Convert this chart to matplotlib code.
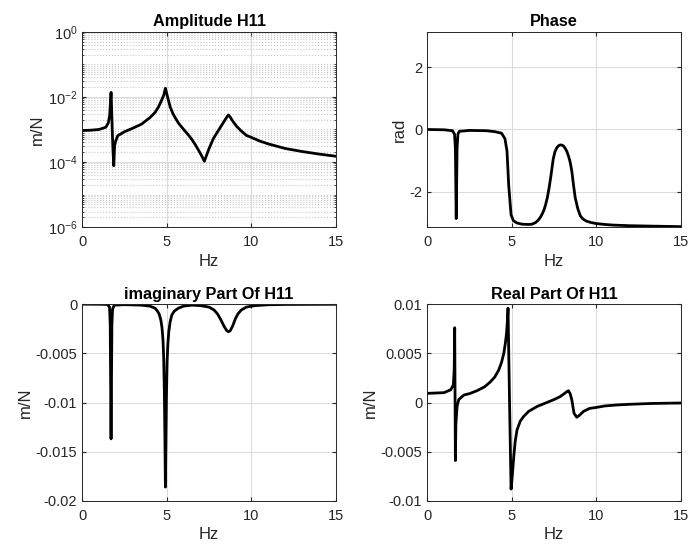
import matplotlib
matplotlib.use('Agg')
import matplotlib.pyplot as plt
from matplotlib.ticker import LogLocator, NullFormatter

plt.rcParams['font.family'] = ['Liberation Sans', 'DejaVu Sans']
plt.rcParams['axes.unicode_minus'] = False
plt.rcParams['mathtext.fontset'] = 'custom'
plt.rcParams['mathtext.rm'] = 'Liberation Sans'
plt.rcParams['mathtext.it'] = 'Liberation Sans:italic'
plt.rcParams['mathtext.bf'] = 'Liberation Sans:bold'

# amplitude |H11| (m/N)
amp_f = [0, 0.5, 1.0, 1.4, 1.55, 1.63, 1.68, 1.71, 1.74, 1.78, 1.82, 1.87, 1.92, 1.97,
         2.1, 2.5, 3.0, 3.5, 4.0, 4.3, 4.5, 4.7, 4.82, 4.92, 5.0, 5.1, 5.2, 5.35, 5.5,
         5.7, 6.0, 6.3, 6.5, 6.7, 6.9, 7.05, 7.22, 7.35, 7.5, 7.75, 8.0, 8.3, 8.5, 8.64,
         8.75, 8.9, 9.13, 9.4, 9.7, 10.0, 10.5, 11, 12, 13, 14, 15]
amp = [9.3e-4, 9.5e-4, 1.0e-3, 1.17e-3, 1.6e-3, 2.8e-3, 7.9e-3, 1.38e-2, 5.0e-3, 1.0e-3,
       2.5e-4, 7.7e-5, 3.2e-4, 4.2e-4, 6.4e-4, 8.5e-4, 1.1e-3, 1.45e-3, 2.3e-3, 3.3e-3,
       4.8e-3, 8.0e-3, 1.12e-2, 1.86e-2, 1.26e-2, 7.9e-3, 5.0e-3, 3.2e-3, 2.3e-3, 1.55e-3,
       1.0e-3, 6.6e-4, 4.8e-4, 3.3e-4, 2.2e-4, 1.6e-4, 1.05e-4, 1.6e-4, 2.6e-4, 5.2e-4,
       8.5e-4, 1.5e-3, 2.2e-3, 2.8e-3, 2.4e-3, 1.8e-3, 1.25e-3, 9.0e-4, 6.6e-4, 5.7e-4,
       4.4e-4, 3.6e-4, 2.6e-4, 2.1e-4, 1.75e-4, 1.5e-4]

# phase (rad)
ph_f = [0, 1.0, 1.5, 1.62, 1.67, 1.70, 1.72, 1.74, 1.77, 1.82, 1.9, 2.5, 3.5, 4.0, 4.4,
        4.6, 4.72, 4.82, 4.96, 5.1, 5.3, 5.6, 6.0, 6.2, 6.4, 6.55, 6.7, 6.8, 6.9, 7.0,
        7.1, 7.2, 7.3, 7.45, 7.55, 7.65, 7.75, 7.85, 7.95, 8.05, 8.15, 8.25, 8.35, 8.45,
        8.55, 8.65, 8.75, 8.9, 9.05, 9.2, 9.4, 9.7, 10, 10.5, 11, 12, 13, 15]
ph = [0.0, -0.01, -0.04, -0.15, -0.6, -2.0, -2.87, -2.0, -0.6, -0.15, -0.06, -0.03,
      -0.04, -0.07, -0.12, -0.3, -0.7, -1.8, -2.75, -2.94, -3.01, -3.05, -3.06, -3.05,
      -3.0, -2.93, -2.82, -2.72, -2.6, -2.42, -2.2, -1.9, -1.55, -0.95, -0.72, -0.6,
      -0.53, -0.5, -0.5, -0.53, -0.6, -0.7, -0.85, -1.05, -1.35, -1.8, -2.2, -2.55,
      -2.78, -2.88, -2.95, -3.0, -3.03, -3.06, -3.08, -3.1, -3.11, -3.13]

# imaginary part (m/N)
im_f = [0, 1.0, 1.5, 1.62, 1.66, 1.69, 1.71, 1.73, 1.76, 1.80, 1.9, 2.5, 3.5, 4.0, 4.3,
        4.45, 4.55, 4.65, 4.72, 4.78, 4.82, 4.86, 4.89, 4.92, 4.95, 4.98, 5.02, 5.06,
        5.12, 5.2, 5.3, 5.45, 5.7, 6.0, 6.5, 7.0, 7.5, 7.8, 8.0, 8.2, 8.4, 8.55, 8.65,
        8.75, 8.9, 9.05, 9.2, 9.4, 9.7, 10.2, 11, 12, 15]
im = [0, -0.00001, -0.00003, -0.0003, -0.002, -0.009, -0.0137, -0.009, -0.002, -0.0005,
      -0.0001, -0.00005, -0.0001, -0.0002, -0.0004, -0.0007, -0.001, -0.0016, -0.0024,
      -0.0037, -0.0055, -0.009, -0.0135, -0.0186, -0.014, -0.0095, -0.006, -0.0042,
      -0.0028, -0.0018, -0.0011, -0.0007, -0.0004, -0.0002, -0.0001, -0.00015, -0.0003,
      -0.0006, -0.001, -0.0016, -0.0023, -0.0027, -0.0028, -0.0027, -0.0022, -0.0015,
      -0.001, -0.0006, -0.0003, -0.00015, -0.00006, -0.00003, -0.00001]

# real part (m/N)
re_f = [0, 1.0, 1.4, 1.55, 1.6, 1.63, 1.65, 1.67, 1.70, 1.77, 1.87, 2.17, 2.5, 2.95,
        3.4, 3.74, 4.0, 4.23, 4.4, 4.53, 4.62, 4.69, 4.75, 4.78, 4.87, 4.96, 5.03, 5.12,
        5.2, 5.31, 5.5, 5.71, 6.0, 6.5, 7.0, 7.5, 7.86, 8.1, 8.25, 8.35, 8.45, 8.55,
        8.68, 8.84, 9.0, 9.24, 9.6, 10.0, 10.5, 11.2, 12, 13.2, 15]
re = [0.00093, 0.001, 0.0013, 0.0018, 0.0033, 0.0076, 0.001, -0.0059, -0.0022, -0.0004,
      0.0003, 0.00076, 0.0009, 0.0012, 0.0016, 0.0021, 0.0026, 0.0033, 0.0041, 0.005,
      0.006, 0.007, 0.0085, 0.0096, 0.0, -0.0088, -0.0075, -0.0055, -0.004, -0.0028,
      -0.0019, -0.0014, -0.0009, -0.0004, -0.00005, 0.0003, 0.0006, 0.0009, 0.0011,
      0.0012, 0.0009, 0.00025, -0.0011, -0.0015, -0.0013, -0.0009, -0.0006, -0.0005,
      -0.00035, -0.00025, -0.00018, -0.0001, -0.00005]

GRID = '#dcdcdc'
AX = '#262626'


def style(ax, title, ylabel):
    ax.set_xlim(0, 15)
    ax.set_xticks([0, 5, 10, 15])
    ax.set_title(title, fontsize=11.7, fontweight='bold', pad=4)
    ax.set_xlabel('Hz', fontsize=12, color=AX, labelpad=3)
    ax.set_ylabel(ylabel, fontsize=12, color=AX, labelpad=2)
    ax.tick_params(which='both', direction='in', top=True, right=True,
                   labelsize=10.5, colors=AX, length=3)
    ax.tick_params(axis='x', pad=6)
    ax.grid(True, color=GRID, linewidth=0.8)
    ax.set_axisbelow(True)
    for s in ax.spines.values():
        s.set_color(AX)
        s.set_linewidth(0.7)


fig = plt.figure(figsize=(6.9, 5.51), dpi=100)
ax1 = fig.add_axes([0.119, 0.588, 0.368, 0.354])
ax2 = fig.add_axes([0.619, 0.588, 0.368, 0.354])
ax3 = fig.add_axes([0.119, 0.091, 0.368, 0.357])
ax4 = fig.add_axes([0.619, 0.091, 0.368, 0.357])

ax1.semilogy(amp_f, amp, color='black', lw=2)
ax1.set_ylim(1e-6, 1)
ax1.set_yticks([1e-6, 1e-4, 1e-2, 1e0])
ax1.yaxis.set_minor_locator(LogLocator(base=10, subs=[1, 2, 3, 4, 5, 6, 7, 8, 9], numticks=20))
ax1.yaxis.set_minor_formatter(NullFormatter())
style(ax1, 'Amplitude H11', 'm/N')
ax1.grid(True, which='minor', axis='y', color='#c8c8c8', linestyle=':', linewidth=0.8)
ax1.tick_params(which='minor', length=1.5)

ax2.plot(ph_f, ph, color='black', lw=2)
ax2.set_ylim(-3.1416, 3.1416)
ax2.set_yticks([-2, 0, 2])
style(ax2, 'Phase', 'rad')

ax3.plot(im_f, im, color='black', lw=2)
ax3.set_ylim(-0.02, 0)
ax3.set_yticks([-0.02, -0.015, -0.01, -0.005, 0])
ax3.set_yticklabels(['-0.02', '-0.015', '-0.01', '-0.005', '0'])
style(ax3, 'imaginary Part Of H11', 'm/N')

ax4.plot(re_f, re, color='black', lw=2)
ax4.set_ylim(-0.01, 0.01)
ax4.set_yticks([-0.01, -0.005, 0, 0.005, 0.01])
ax4.set_yticklabels(['-0.01', '-0.005', '0', '0.005', '0.01'])
style(ax4, 'Real Part Of H11', 'm/N')

fig.savefig('out.png', dpi=100)
